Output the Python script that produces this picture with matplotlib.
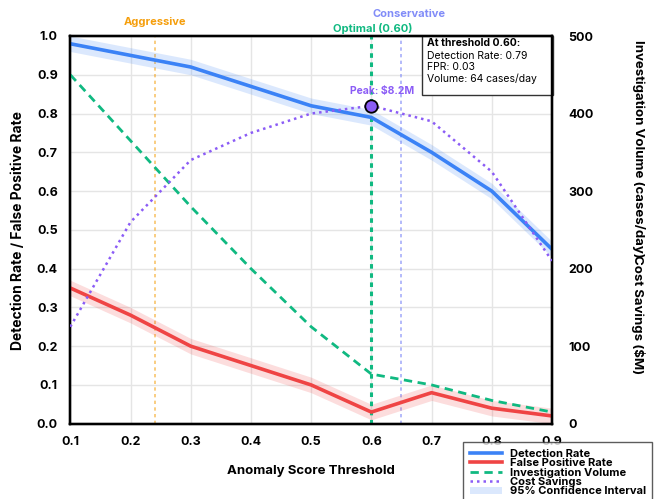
import numpy as np
import matplotlib
matplotlib.use("Agg")
import matplotlib.pyplot as plt
from matplotlib.lines import Line2D
from matplotlib.patches import Patch, Rectangle

plt.rcParams['font.family'] = ['Inter', 'DejaVu Sans']

thresholds = [0.1, 0.2, 0.3, 0.4, 0.5, 0.6, 0.7, 0.8, 0.9]
detection_rate = [0.98, 0.95, 0.92, 0.87, 0.82, 0.79, 0.70, 0.60, 0.45]
false_positive_rate = [0.35, 0.28, 0.20, 0.15, 0.10, 0.03, 0.08, 0.04, 0.02]
investigation_volume = [450, 365, 280, 200, 125, 64, 50, 30, 15]
cost_savings = [2.5, 5.2, 6.8, 7.5, 8.0, 8.2, 7.8, 6.5, 4.2]
ci_half = 0.02
aggressive_t, optimal_t, conservative_t = 0.24, 0.60, 0.65

BLUE = '#3b82f6'
RED = '#ef4444'
GREEN = '#10b981'
PURPLE = '#8b5cf6'
ORANGE = '#f59e0b'
INDIGO = '#818cf8'

fig = plt.figure(figsize=(6.54, 4.99), dpi=100)
ax = fig.add_axes([70.3/654, 1-423.7/499, (552-70.3)/654, (423.7-36)/499])
ax2 = ax.twinx()
ax3 = ax.twinx()

x = np.array(thresholds)
dr = np.array(detection_rate)
fpr = np.array(false_positive_rate)

ax.fill_between(x, dr - ci_half, dr + ci_half, color=BLUE, alpha=0.18, lw=0, zorder=2)
ax.fill_between(x, fpr - ci_half, fpr + ci_half, color=RED, alpha=0.18, lw=0, zorder=2)
ax.plot(x, dr, color=BLUE, lw=2.6, zorder=4, solid_capstyle='butt')
ax.plot(x, fpr, color=RED, lw=2.6, zorder=4, solid_capstyle='butt')

ax2.plot(x, investigation_volume, color=GREEN, lw=2, ls=(0, (3, 2)), zorder=3)
ax3.plot(x, cost_savings, color=PURPLE, lw=1.8, ls=(0, (1, 1.6)), zorder=3)

# threshold lines
ax.axvline(aggressive_t, color=ORANGE, lw=1.2, ls=(0, (2, 2)), alpha=0.6, zorder=1)
ax.axvline(optimal_t, color=GREEN, lw=2.2, ls=(0, (1.5, 1.5)), zorder=3)
ax.axvline(conservative_t, color=INDIGO, lw=1.2, ls=(0, (2, 2)), alpha=0.7, zorder=1)

ax.text(aggressive_t, 1.037, 'Aggressive', color=ORANGE, fontsize=8, fontweight='bold',
        ha='center', va='center', clip_on=False)
ax.text(optimal_t + 0.003, 1.020, 'Optimal (0.60)', color=GREEN, fontsize=8, fontweight='bold',
        ha='center', va='center', clip_on=False)
ax.text(0.662, 1.057, 'Conservative', color=INDIGO, fontsize=8, fontweight='bold',
        ha='center', va='center', clip_on=False)

# peak marker
pk = int(np.argmax(cost_savings))
ax3.scatter([thresholds[pk]], [cost_savings[pk]], s=80, color=PURPLE, edgecolor='black',
            linewidth=1.3, zorder=6)
ax3.text(thresholds[pk] + 0.018, cost_savings[pk] + 0.38, 'Peak: $8.2M', color=PURPLE,
         fontsize=7.5, fontweight='bold', ha='center', va='center')

# info box
ax.add_patch(Rectangle((0.730, 0.848), 0.272, 0.152, transform=ax.transAxes,
                       facecolor='white', edgecolor='#333333', lw=1, zorder=9, clip_on=False))
info_lines = ['At threshold 0.60:', 'Detection Rate: 0.79', 'FPR: 0.03', 'Volume: 64 cases/day']
info_y = [0.982, 0.949, 0.919, 0.889]
for i, (t, yy) in enumerate(zip(info_lines, info_y)):
    ax.text(0.7405, yy, t, transform=ax.transAxes, fontsize=7.5,
            fontweight='bold' if i == 0 else 'normal', ha='left', va='center', zorder=10)

ax.set_xlim(0.1, 0.9)
ax.set_ylim(0, 1.0)
ax2.set_ylim(0, 500)
ax3.set_ylim(0, 10)
ax.set_xticks(thresholds)
ax.set_yticks(np.arange(0, 1.01, 0.1))
ax.set_xticklabels([f'{t:.1f}' for t in thresholds])
ax.set_yticklabels([f'{t:.1f}' for t in np.arange(0, 1.01, 0.1)])
ax2.set_yticks([0, 100, 200, 300, 400, 500])
ax3.set_yticks([])

ax.grid(True, color='#e5e5e5', lw=1)
ax.set_axisbelow(True)
for a in (ax, ax2, ax3):
    for s in a.spines.values():
        s.set_linewidth(1.6)
        s.set_color('black')
ax.tick_params(length=0, labelsize=9)
ax.tick_params(axis='y', pad=9)
ax.tick_params(axis='x', pad=9)
ax2.tick_params(length=0, labelsize=9, pad=12)
for lab in ax.get_xticklabels() + ax.get_yticklabels() + ax2.get_yticklabels():
    lab.set_fontweight('bold')

ax.set_xlabel('Anomaly Score Threshold', fontsize=9.5, fontweight='bold', labelpad=12)
fig.text(18.5/654, 1-230/499, 'Detection Rate / False Positive Rate', rotation=90,
         fontsize=10, fontweight='bold', ha='center', va='center')
fig.text(638/654, 1-258/499, 'Investigation Volume (cases/day)', rotation=270,
         fontsize=9.5, fontweight='bold', ha='center', va='bottom')
fig.text(638/654, 1-255/499, 'Cost Savings ($M)', rotation=270,
         fontsize=9.5, fontweight='bold', ha='center', va='top')

handles = [
    Line2D([], [], color=BLUE, lw=2.6),
    Line2D([], [], color=RED, lw=2.6),
    Line2D([], [], color=GREEN, lw=2, ls=(0, (3, 2))),
    Line2D([], [], color=PURPLE, lw=1.8, ls=(0, (1, 1.6))),
    Patch(facecolor=BLUE, alpha=0.18, lw=0),
]
labels = ['Detection Rate', 'False Positive Rate', 'Investigation Volume', 'Cost Savings',
          '95% Confidence Interval']
leg = fig.legend(handles, labels, loc='upper left', bbox_to_anchor=(463/654, 1-442/499),
                 frameon=True, fancybox=False, edgecolor='#333333',
                 prop={'weight': 'bold', 'size': 8}, labelspacing=-0.05, handlelength=2.9,
                 handletextpad=0.7, borderpad=0.6, borderaxespad=0)
leg.get_frame().set_linewidth(1)

fig.savefig('out.png', dpi=100)
